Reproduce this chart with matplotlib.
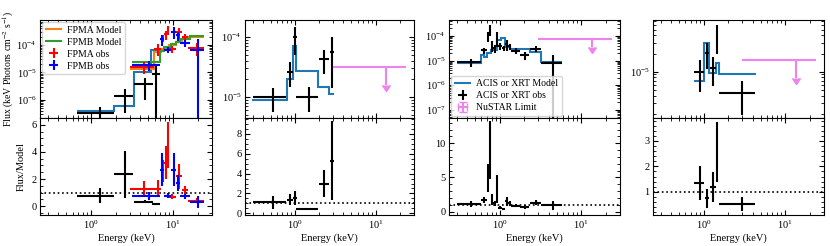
import matplotlib
matplotlib.use("Agg")
import matplotlib.pyplot as plt
import numpy as np
from matplotlib.ticker import AutoMinorLocator, MultipleLocator

plt.rcParams['font.family'] = 'Liberation Serif'
plt.rcParams['mathtext.fontset'] = 'stix'
plt.rcParams['font.size'] = 7.5
plt.rcParams['xtick.direction'] = 'in'
plt.rcParams['ytick.direction'] = 'in'
plt.rcParams['xtick.top'] = True
plt.rcParams['ytick.right'] = True
plt.rcParams['xtick.major.size'] = 3.5
plt.rcParams['ytick.major.size'] = 3.5
plt.rcParams['xtick.minor.size'] = 2
plt.rcParams['ytick.minor.size'] = 2
plt.rcParams['xtick.major.pad'] = 2.5
plt.rcParams['ytick.major.pad'] = 2.5

###################################################################
# panel 1 : XRT + NuSTAR FPMA/FPMB
p1_lo = [0.67, 1.91, 3.36, 5.6]
p1_hi = [1.91, 3.3, 5.7, 7.0]
p1_flux = [3.4e-7, 1.43e-6, 3.7e-6, 8.9e-6]
p1_ferr = [2.2e-7, 1.1e-6, 2.7e-6, 9.0e-6]
p1_ratio = [0.76, 2.35, 0.32, 0.13]
p1_rerr = [0.55, 1.75, 0.12, 0.05]
p1_mod_edges = [0.67, 1.91, 3.35, 5.4, 7.1]
p1_mod_vals = [4e-7, 6e-7, 1.07e-5, 6.6e-5]

fpma_lo = [3.0, 5.9, 7.2, 7.9, 8.4, 8.9, 10.8, 12.9, 15.5]
fpma_hi = [5.9, 7.2, 7.9, 8.4, 8.9, 10.8, 12.9, 15.5, 24.0]
fpma_model = [1.3e-5, 5.5e-5, 7e-5, 7.5e-5, 8e-5, 1.0e-4, 1.3e-4, 1.7e-4, 2.0e-4]
fpma_flux = [1.6e-5, 7.2e-5, 1.8e-4, 2.4e-4, 3.6e-4, 7.0e-5, 2.9e-4, 2.0e-4, 8.0e-5]
fpma_ferr = [7.5e-6, 3.3e-5, 5.6e-5, 9e-5, 1.36e-4, 2e-5, 1.2e-4, 5e-5, 4e-5]
fpma_ratio = [1.26, 1.3, 2.6, 3.2, 4.5, 0.7, 2.2, 1.2, 0.4]
fpma_rerr = [0.58, 0.6, 0.8, 1.2, 1.7, 0.2, 0.9, 0.3, 0.2]

fpmb_lo = [3.2, 6.9, 7.9, 9.6, 11.0, 12.2, 16.0]
fpmb_hi = [6.9, 7.9, 9.6, 11.0, 12.2, 16.0, 24.0]
fpmb_model = [2.4e-5, 6e-5, 8.5e-5, 1.1e-4, 1.3e-4, 1.7e-4, 2.1e-4]
fpmb_flux = [1.8e-5, 1.6e-4, 6.6e-5, 3.0e-4, 2.2e-4, 1.2e-4, 6.3e-5]
fpmb_ferr = [7e-6, 7e-5, 1.7e-5, 1.3e-4, 8e-5, 3.4e-5, 9.5e-5]
fpmb_ratio = [0.75, 2.7, 0.78, 2.7, 1.7, 0.72, 0.3]
fpmb_rerr = [0.3, 1.2, 0.2, 1.2, 0.6, 0.2, 0.45]

# panel 2
p2_lo = [0.30, 0.79, 0.94, 1.03, 1.99, 2.75]
p2_hi = [0.77, 0.94, 1.06, 1.94, 2.65, 3.05]
p2_flux = [9.9e-6, 2.64e-5, 1.0e-4, 1.0e-5, 4.3e-5, 5.7e-5]
p2_ferr = [4.4e-6, 1.2e-5, 5e-5, 4.4e-6, 1.9e-5, 4.3e-5]
p2_ratio = [1.1, 1.35, 1.5, 0.4, 3.0, 5.3]
p2_rerr = [0.67, 0.55, 0.7, 0.1, 1.4, 3.95]
p2_mod_edges = [0.29, 0.79, 0.95, 1.03, 1.94, 2.65, 3.05]
p2_mod_vals = [9.0e-6, 2.0e-5, 7.2e-5, 2.75e-5, 1.45e-5, 1.1e-5]
p2_limit = 3.2e-5

# panel 3
p3_lo = [0.30, 0.60, 0.70, 0.74, 0.78, 0.84, 0.90, 0.96, 1.08, 1.18, 1.28, 1.40, 1.78, 2.35, 3.18]
p3_hi = [0.60, 0.70, 0.74, 0.78, 0.84, 0.90, 0.95, 1.08, 1.18, 1.28, 1.40, 1.78, 2.30, 3.18, 5.87]
p3_flux = [8.6e-6, 2.6e-5, 9.8e-5, 1.8e-4, 4.2e-5, 3.2e-5, 8.9e-5, 4.0e-5, 3.2e-5, 4.5e-5,
           3.8e-5, 2.5e-5, 1.7e-5, 3.0e-5, 8.2e-6]
p3_ferr = [3.1e-6, 7.7e-6, 4e-5, 8.4e-5, 1.9e-5, 1.1e-5, 5.4e-5, 1.2e-5, 8e-6, 2e-5,
           1e-5, 7e-6, 6e-6, 8e-6, 8.2e-6]
p3_ratio = [1.1, 1.7, 4.9, 9.0, 1.8, 1.2, 3.3, 0.55, 0.4, 1.5, 1.2, 0.85, 0.7, 1.3, 0.9]
p3_rerr = [0.4, 0.5, 2.0, 4.2, 0.8, 0.4, 2.0, 0.2, 0.15, 0.7, 0.4, 0.25, 0.3, 0.4, 0.7]
p3_mod_edges = [0.30, 0.60, 0.65, 0.70, 0.79, 0.92, 1.03, 1.18, 1.34, 2.35, 3.18, 5.87]
p3_mod_vals = [7.8e-6, 1.7e-5, 1.4e-5, 2.0e-5, 2.7e-5, 6.9e-5, 8.0e-5, 3.4e-5, 2.9e-5, 2.3e-5, 9.1e-6]
p3_limit = 7.3e-5

# panel 4
p4_lo = [0.77, 1.04, 1.20, 1.42, 1.55]
p4_hi = [1.02, 1.18, 1.41, 1.50, 4.32]
p4_flux = [1.0e-5, 2.07e-5, 1.17e-5, 4.0e-5, 4.5e-6]
p4_ferr = [5.4e-6, 9.5e-6, 6e-6, 2e-5, 2.6e-6]
p4_ratio = [1.33, 0.74, 1.2, 2.57, 0.52]
p4_rerr = [0.67, 0.39, 0.59, 1.17, 0.29]
p4_mod_edges = [0.756, 1.0, 1.18, 1.41, 1.55, 4.4]
p4_mod_vals = [7e-6, 3e-5, 9.4e-6, 1.38e-5, 9.0e-6]
p4_limit = 1.57e-5

# NuSTAR band for the upper limits
lim_lo = 3.0
lim_hi = 24.0

top_ylims = [(2.2e-7, 8e-4), (4.4e-6, 1.95e-4), (4.7e-8, 4.4e-4), (1.7e-6, 7.2e-5)]
bot_ylims = [(-0.65, 6.5), (-0.17, 9.6), (-0.5, 13.7), (0.09, 3.9)]
bot_major = [2, 2, 5, 1]
###################################################################


def obs(ax, lo, hi, y, yerr, color, label=None):
    lo = np.array(lo)
    hi = np.array(hi)
    ax.errorbar((lo + hi) / 2, y, xerr=(hi - lo) / 2, yerr=yerr, fmt='none',
                ecolor=color, elinewidth=1.5, capsize=0, label=label)


def limit(ax, y, label=None):
    ax.errorbar((lim_lo + lim_hi) / 2, y, xerr=(lim_hi - lim_lo) / 2, yerr=0.5 * y,
                uplims=True, fmt='none', color='violet', elinewidth=1.5, capsize=0,
                markersize=5, label=label)


fig = plt.figure(figsize=(8.3, 2.46), dpi=100)
lefts = [40, 245, 449, 653]
widths = [172, 169, 171, 171]
tops = []
bots = []
for l, w in zip(lefts, widths):
    at = fig.add_axes([l / 830, 128 / 246, w / 830, 98 / 246])
    ab = fig.add_axes([l / 830, 31 / 246, w / 830, 97 / 246], sharex=at)
    tops.append(at)
    bots.append(ab)

leg_kw = dict(fontsize=7, handlelength=1.6, labelspacing=0.3, borderpad=0.35,
              handletextpad=0.6, borderaxespad=0.25)

# panel 1
ax = tops[0]
obs(ax, p1_lo, p1_hi, p1_flux, p1_ferr, 'black')
ax.stairs(p1_mod_vals, p1_mod_edges, baseline=None, color='C0', lw=1.5)
obs(ax, fpma_lo, fpma_hi, fpma_flux, fpma_ferr, 'red', 'FPMA obs')
obs(ax, fpmb_lo, fpmb_hi, fpmb_flux, fpmb_ferr, 'blue', 'FPMB obs')
ax.stairs(fpma_model, fpma_lo + [fpma_hi[-1]], baseline=None, color='C1', lw=1.5, label='FPMA Model')
ax.stairs(fpmb_model, fpmb_lo + [fpmb_hi[-1]], baseline=None, color='C2', lw=1.5, label='FPMB Model')
ax.legend(loc='upper left', **leg_kw)
ax.set_ylabel('Flux (keV Photons cm$^{-2}$ s$^{-1}$)', fontsize=7)
ax.yaxis.set_label_coords(-0.14, 0.5)
ax = bots[0]
obs(ax, p1_lo, p1_hi, p1_ratio, p1_rerr, 'black')
obs(ax, fpma_lo, fpma_hi, fpma_ratio, fpma_rerr, 'red')
obs(ax, fpmb_lo, fpmb_hi, fpmb_ratio, fpmb_rerr, 'blue')
ax.set_ylabel('Flux/Model')
ax.yaxis.set_label_coords(-0.08, 0.5)

# panel 2
obs(tops[1], p2_lo, p2_hi, p2_flux, p2_ferr, 'black')
tops[1].stairs(p2_mod_vals, p2_mod_edges, baseline=None, color='C0', lw=1.5)
limit(tops[1], p2_limit)
obs(bots[1], p2_lo, p2_hi, p2_ratio, p2_rerr, 'black')

# panel 3
tops[2].stairs(p3_mod_vals, p3_mod_edges, baseline=None, color='C0', lw=1.5, label='ACIS or XRT Model')
obs(tops[2], p3_lo, p3_hi, p3_flux, p3_ferr, 'black', 'ACIS or XRT obs')
limit(tops[2], p3_limit, 'NuSTAR Limit')
tops[2].legend(loc='lower left', **leg_kw)
obs(bots[2], p3_lo, p3_hi, p3_ratio, p3_rerr, 'black')

# panel 4
obs(tops[3], p4_lo, p4_hi, p4_flux, p4_ferr, 'black')
tops[3].stairs(p4_mod_vals, p4_mod_edges, baseline=None, color='C0', lw=1.5)
limit(tops[3], p4_limit)
obs(bots[3], p4_lo, p4_hi, p4_ratio, p4_rerr, 'black')

for i in range(4):
    at = tops[i]
    ab = bots[i]
    at.set_xscale('log')
    at.set_yscale('log')
    at.set_xlim(0.24, 30)
    at.set_ylim(*top_ylims[i])
    at.tick_params(which='both', labelbottom=False)
    ab.set_ylim(*bot_ylims[i])
    ab.yaxis.set_major_locator(MultipleLocator(bot_major[i]))
    ab.yaxis.set_minor_locator(AutoMinorLocator())
    ab.axhline(1, color='black', ls=':', lw=1.2)
    ab.set_xlabel('Energy (keV)', labelpad=1.5)

plt.savefig('out.png', dpi=100)
